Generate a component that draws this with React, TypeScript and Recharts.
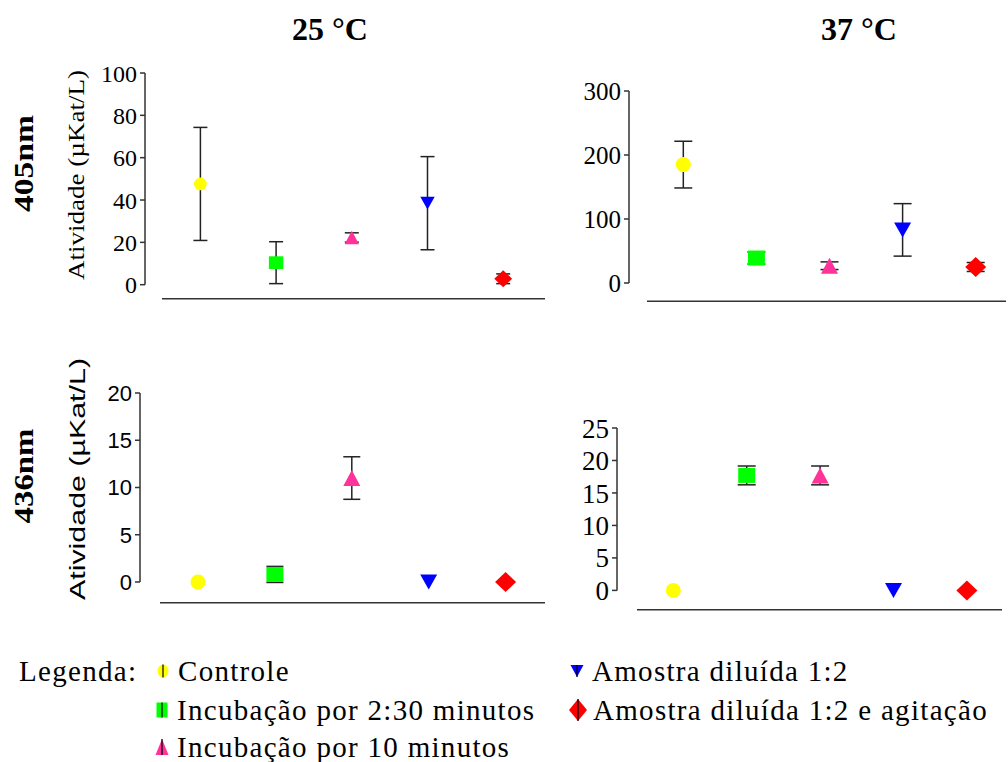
import {
  ScatterChart,
  Scatter,
  XAxis,
  YAxis,
  ErrorBar,
  ReferenceLine,
} from "recharts";

const categories = [
  "Controle",
  "Incubação por 2:30 minutos",
  "Incubação por 10 minutos",
  "Amostra diluída 1:2",
  "Amostra diluída 1:2 e agitação",
];
const temperatures = ["25 °C", "37 °C"];
const wavelengths = ["405nm", "436nm"];
const yLabel = "Atividade (µKat/L)";

// mean and error for each panel, in the category order above
const mean405at25 = [47.6, 10.4, 22.3, 38.5, 2.8];
const err405at25 = [26.7, 9.9, 2.2, 22, 2.3];
const mean405at37 = [185, 39, 27, 83, 25];
const err405at37 = [36.5, 9.4, 6, 41, 7];
const mean436at25 = [0, 0.8, 11, 0, 0];
const err436at25 = [0, 0.85, 2.25, 0, 0];
const mean436at37 = [0, 17.7, 17.7, 0, 0];
const err436at37 = [0, 1.45, 1.45, 0, 0];

const ticks405at25 = [0, 20, 40, 60, 80, 100];
const ticks405at37 = [0, 100, 200, 300];
const ticks436at25 = [0, 5, 10, 15, 20];
const ticks436at37 = [0, 5, 10, 15, 20, 25];

const kinds = ["circle", "square", "triangle", "down", "diamond"];
const colors = ["#FFFF00", "#00FF00", "#FF3399", "#0000FF", "#FF0000"];
const markSize: Record<string, [number, number]> = {
  circle: [15, 15],
  square: [17, 15],
  triangle: [17, 16],
  down: [17, 15],
  diamond: [21, 20],
};

const SERIF = "'Liberation Serif', 'Times New Roman', serif";
const SANS = "'Liberation Sans', Arial, sans-serif";
const AXIS = "#333";

function Mark({ kind, cx, cy, w, h, fill }: any) {
  if (cx == null || cy == null) return <g />;
  switch (kind) {
    case "circle":
      return <ellipse cx={cx} cy={cy} rx={w / 2} ry={h / 2} fill={fill} />;
    case "square":
      return <rect x={cx - w / 2} y={cy - h / 2} width={w} height={h} fill={fill} />;
    case "triangle":
      return (
        <polygon
          points={`${cx},${cy - h / 2} ${cx - w / 2},${cy + h / 2} ${cx + w / 2},${cy + h / 2}`}
          fill={fill}
        />
      );
    case "down":
      return (
        <polygon
          points={`${cx - w / 2},${cy - h / 2} ${cx + w / 2},${cy - h / 2} ${cx},${cy + h / 2}`}
          fill={fill}
        />
      );
    default:
      return (
        <polygon
          points={`${cx},${cy - h / 2} ${cx + w / 2},${cy} ${cx},${cy + h / 2} ${cx - w / 2},${cy}`}
          fill={fill}
        />
      );
  }
}

interface Geom {
  axisX: number;
  topY: number;
  zeroY: number;
  baseY: number;
  lineStart: number;
  lineEnd: number;
  firstX: number;
  step: number;
}

function Panel({
  g,
  means,
  errs,
  ticks,
  font,
  fontSize,
  scale,
  cap,
}: {
  g: Geom;
  means: number[];
  errs: number[];
  ticks: number[];
  font: string;
  fontSize: number;
  scale: number;
  cap: number;
}) {
  const yMax = ticks[ticks.length - 1];
  const yLow = -((g.baseY - g.zeroY) / (g.zeroY - g.topY)) * yMax;
  const xMin = 1 - (g.firstX - g.axisX) / g.step;
  const xMax = 1 + (g.lineEnd - g.firstX) / g.step;
  const xLine = 1 + (g.lineStart - g.firstX) / g.step;
  const padL = 70;
  const padT = 20;
  const padB = 20;
  const padR = 4;
  const width = g.lineEnd - g.axisX + padL + padR;
  const height = g.baseY - g.topY + padT + padB;
  const points = means.map((m, i) => ({ x: i + 1, y: m, err: errs[i] }));

  return (
    <div style={{ position: "absolute", left: g.axisX - padL, top: g.topY - padT }}>
      <ScatterChart
        width={width}
        height={height}
        margin={{ top: padT, right: padR, bottom: 0, left: 0 }}
      >
        <XAxis
          type="number"
          dataKey="x"
          domain={[xMin, xMax]}
          ticks={[1, 2, 3, 4, 5]}
          interval={0}
          allowDataOverflow
          axisLine={false}
          tickLine={{ stroke: AXIS, strokeWidth: 1.5 }}
          tickSize={7}
          tick={false}
          height={padB}
        />
        <YAxis
          type="number"
          dataKey="y"
          domain={[yLow, yMax]}
          ticks={ticks}
          interval={0}
          allowDataOverflow
          axisLine={false}
          tickLine={{ stroke: AXIS, strokeWidth: 1.5 }}
          tickSize={5}
          tickMargin={3}
          width={padL}
          tick={{ fill: "#000", fontFamily: font, fontSize }}
        />
        <ReferenceLine
          segment={[
            { x: xMin, y: 0 },
            { x: xMin, y: yMax },
          ]}
          stroke={AXIS}
          strokeWidth={1.5}
          ifOverflow="visible"
        />
        <ReferenceLine
          segment={[
            { x: xLine, y: yLow },
            { x: xMax, y: yLow },
          ]}
          stroke={AXIS}
          strokeWidth={1.5}
          ifOverflow="visible"
        />
        {points.map((p, i) => (
          <Scatter
            key={categories[i]}
            name={categories[i]}
            data={[p]}
            isAnimationActive={false}
            shape={(props: any) => (
              <Mark
                kind={kinds[i]}
                cx={props.cx}
                cy={props.cy}
                w={markSize[kinds[i]][0] * scale}
                h={markSize[kinds[i]][1] * scale}
                fill={colors[i]}
              />
            )}
          />
        ))}
        <Scatter
          data={points.filter((p) => p.err > 0)}
          isAnimationActive={false}
          shape={() => <g />}
        >
          <ErrorBar dataKey="err" direction="y" width={cap} stroke="#222" strokeWidth={1.5} />
        </Scatter>
      </ScatterChart>
    </div>
  );
}

function LegendItem({ x, y, kind, color, w, h, text }: any) {
  return (
    <g>
      <Mark kind={kind} cx={x} cy={y} w={w} h={h} fill={color} />
      <line x1={x} y1={y - h / 2} x2={x} y2={y + h / 2} stroke="#000" strokeWidth={1.2} />
      <text x={x + 15} y={y + 10} fontFamily={SERIF} fontSize={29} letterSpacing={1.3} fill="#000">
        {text}
      </text>
    </g>
  );
}

export default function App() {
  return (
    <div
      style={{
        position: "absolute",
        left: 0,
        top: 0,
        width: 1008,
        height: 762,
        background: "#fff",
        overflow: "hidden",
      }}
    >
      <Panel
        g={{ axisX: 145, topY: 73.3, zeroY: 285, baseY: 299, lineStart: 162, lineEnd: 545, firstX: 200.4, step: 75.7 }}
        means={mean405at25}
        errs={err405at25}
        ticks={ticks405at25}
        font={SERIF}
        fontSize={24}
        scale={0.85}
        cap={7}
      />
      <Panel
        g={{ axisX: 629, topY: 90.7, zeroY: 282.7, baseY: 301, lineStart: 647, lineEnd: 1006, firstX: 683.3, step: 73.1 }}
        means={mean405at37}
        errs={err405at37}
        ticks={ticks405at37}
        font={SERIF}
        fontSize={25}
        scale={1}
        cap={9}
      />
      <Panel
        g={{ axisX: 140, topY: 393.3, zeroY: 582.3, baseY: 603, lineStart: 160, lineEnd: 545, firstX: 198, step: 76.9 }}
        means={mean436at25}
        errs={err436at25}
        ticks={ticks436at25}
        font={SANS}
        fontSize={22}
        scale={1}
        cap={8.5}
      />
      <Panel
        g={{ axisX: 617, topY: 428.3, zeroY: 590.7, baseY: 610, lineStart: 637, lineEnd: 1002, firstX: 673.3, step: 73.4 }}
        means={mean436at37}
        errs={err436at37}
        ticks={ticks436at37}
        font={SERIF}
        fontSize={27}
        scale={1}
        cap={9}
      />

      <svg
        width={1008}
        height={762}
        style={{ position: "absolute", left: 0, top: 0, pointerEvents: "none" }}
      >
        <text x={330} y={40} textAnchor="middle" fontFamily={SERIF} fontWeight="bold" fontSize={32}>
          {temperatures[0]}
        </text>
        <text x={859} y={40} textAnchor="middle" fontFamily={SERIF} fontWeight="bold" fontSize={32}>
          {temperatures[1]}
        </text>
        <text
          transform="translate(33,163.5) rotate(-90)"
          textAnchor="middle"
          fontFamily={SERIF}
          fontWeight="bold"
          fontSize={27}
          textLength={97}
          lengthAdjust="spacingAndGlyphs"
        >
          {wavelengths[0]}
        </text>
        <text
          transform="translate(33,476) rotate(-90)"
          textAnchor="middle"
          fontFamily={SERIF}
          fontWeight="bold"
          fontSize={27}
          textLength={95}
          lengthAdjust="spacingAndGlyphs"
        >
          {wavelengths[1]}
        </text>
        <text
          transform="translate(84,175) rotate(-90)"
          textAnchor="middle"
          fontFamily={SERIF}
          fontSize={22.5}
          textLength={210}
          lengthAdjust="spacingAndGlyphs"
        >
          {yLabel}
        </text>
        <text
          transform="translate(85,479) rotate(-90)"
          textAnchor="middle"
          fontFamily={SANS}
          fontSize={22}
          textLength={242}
          lengthAdjust="spacingAndGlyphs"
        >
          {yLabel}
        </text>

        <text x={19} y={681} fontFamily={SERIF} fontSize={29} letterSpacing={1.3}>
          Legenda:
        </text>
        <LegendItem x={163} y={671} kind={kinds[0]} color={colors[0]} w={11} h={13} text={categories[0]} />
        <LegendItem x={162} y={710} kind={kinds[1]} color={colors[1]} w={11} h={15} text={categories[1]} />
        <LegendItem x={162} y={747} kind={kinds[2]} color={colors[2]} w={13} h={16} text={categories[2]} />
        <LegendItem x={577} y={671} kind={kinds[3]} color={colors[3]} w={13} h={12} text={categories[3]} />
        <LegendItem x={578} y={710} kind={kinds[4]} color={colors[4]} w={18} h={22} text={categories[4]} />
      </svg>
    </div>
  );
}
